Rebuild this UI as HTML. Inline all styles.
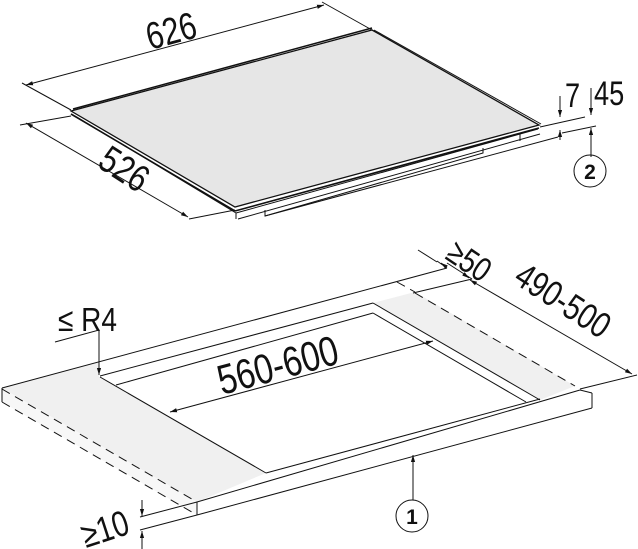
<!DOCTYPE html>
<html><head><meta charset="utf-8"><style>
html,body{margin:0;padding:0;background:#fff;width:638px;height:549px;overflow:hidden}
svg text{font-family:"Liberation Sans",sans-serif;fill:#111}
</style></head><body>
<svg width="638" height="549" viewBox="0 0 638 549" xmlns="http://www.w3.org/2000/svg">
<defs>
<marker id="a" viewBox="0 0 10 10" refX="10" refY="5" markerWidth="7" markerHeight="7" orient="auto-start-reverse"><path d="M0,2 L10,5 L0,8 z" fill="#111"/></marker>
</defs>
<g stroke="#111" stroke-width="1" fill="none">
<line x1="236" y1="213" x2="538" y2="129"/>
<line x1="238" y1="219" x2="540" y2="134"/>
<line x1="75" y1="116" x2="236" y2="213"/>
<line x1="236" y1="213" x2="236" y2="219"/>
<polyline points="265,210 265,216 483,153 483,148"/>
<line x1="265" y1="216" x2="558" y2="137"/>
<polyline points="520,134 520,141"/>
<polygon points="71,111 372,30 539,125 235,207" fill="#e6e6e6" stroke="#111" stroke-width="1.3"/>
<line x1="71" y1="114" x2="235" y2="211" stroke-width="1.6"/>
<line x1="235" y1="211" x2="539" y2="128" stroke-width="1.6"/>
<line x1="73" y1="109" x2="372" y2="28" stroke-width="1.5"/>
<line x1="374" y1="30" x2="541" y2="124"/>
<line x1="71" y1="110" x2="22" y2="83"/>
<line x1="372" y1="30" x2="322" y2="2"/>
<line x1="26" y1="85" x2="324" y2="5" marker-start="url(#a)" marker-end="url(#a)"/>
<line x1="71" y1="116" x2="20" y2="125"/>
<line x1="235" y1="210" x2="189" y2="219"/>
<line x1="26" y1="123" x2="188" y2="217" marker-start="url(#a)" marker-end="url(#a)"/>
<line x1="540" y1="127" x2="585" y2="117"/>
<line x1="562" y1="133" x2="596" y2="126"/>
<line x1="560" y1="96" x2="560" y2="117" marker-end="url(#a)"/>
<line x1="560" y1="140" x2="560" y2="130" marker-end="url(#a)"/>
<line x1="591" y1="88" x2="591" y2="115" marker-end="url(#a)"/>
<line x1="591" y1="157" x2="591" y2="128" marker-end="url(#a)"/>
<circle cx="590" cy="171" r="16"/>

<polygon points="2,388 99,362 99,377 266,473 197,502" fill="#f0f0f0" stroke="none"/>
<polygon points="373,303 415,292 575,386 540,400" fill="#f0f0f0" stroke="none"/>
<polygon points="2,388 2,402 197,515 197,502" fill="#f7f7f7" stroke="none"/>
<line x1="2" y1="388" x2="447" y2="268"/>
<line x1="413" y1="293" x2="472" y2="279"/>
<line x1="100" y1="376" x2="373" y2="303"/>
<line x1="116" y1="385" x2="373" y2="313"/>
<line x1="100" y1="377" x2="266" y2="473"/>
<line x1="373" y1="303" x2="540" y2="400"/>
<line x1="373" y1="313" x2="526" y2="402"/>
<line x1="266" y1="473" x2="540" y2="399"/>
<line x1="197" y1="502" x2="580" y2="390"/>
<line x1="580" y1="390" x2="592" y2="393"/>
<line x1="197" y1="515" x2="592" y2="408"/>
<line x1="592" y1="393" x2="592" y2="408"/>
<line x1="197" y1="502" x2="197" y2="515"/>
<line x1="2" y1="388" x2="2" y2="402"/>
<line x1="2" y1="389" x2="197" y2="502" stroke-dasharray="9,6"/>
<line x1="2" y1="402" x2="197" y2="515" stroke-dasharray="9,6"/>
<line x1="397" y1="282" x2="415" y2="292" stroke-dasharray="9,6"/>
<line x1="415" y1="293" x2="575" y2="386" stroke-dasharray="9,6"/>
<polyline points="55,342 99,330 99,375" marker-end="url(#a)"/>
<line x1="170" y1="412" x2="433" y2="341" marker-start="url(#a)" marker-end="url(#a)"/>
<line x1="447" y1="268" x2="437" y2="261"/>
<line x1="472" y1="279" x2="447" y2="263"/>
<line x1="465" y1="275" x2="469" y2="278" marker-end="url(#a)"/>
<line x1="445" y1="266" x2="441" y2="263" marker-end="url(#a)"/>
<line x1="437" y1="262" x2="418" y2="250"/>
<line x1="580" y1="389" x2="637" y2="375"/>
<line x1="470" y1="280" x2="632" y2="374" marker-start="url(#a)" marker-end="url(#a)"/>
<line x1="197" y1="502" x2="140" y2="517"/>
<line x1="197" y1="515" x2="140" y2="530"/>
<line x1="142" y1="500" x2="142" y2="516" marker-end="url(#a)"/>
<line x1="142" y1="549" x2="142" y2="531" marker-end="url(#a)"/>
<line x1="413" y1="500" x2="413" y2="455" marker-end="url(#a)"/>
<circle cx="412" cy="516" r="16"/>
</g>
<g font-size="38">
<text transform="translate(150,50) rotate(-15) scale(0.8,1)">626</text>
<text transform="translate(96,166) rotate(33) scale(0.8,1)">526</text>
<text transform="translate(565,107) scale(0.8,1)" font-size="34">7</text>
<text transform="translate(594,105) scale(0.8,1)" font-size="34">45</text>
<text transform="translate(58,331) scale(0.85,1)" font-size="33">≤ R4</text>
<text transform="translate(222,395) rotate(-15) scale(0.8,1)" font-size="42">560-600</text>
<text transform="translate(444,258) rotate(34) scale(0.8,1)" font-size="34">≥50</text>
<text transform="translate(512,282) rotate(33) scale(0.8,1)" font-size="36">490-500</text>
<text transform="translate(86,548) rotate(-18) scale(0.8,1)" font-size="36">≥10</text>
</g>
<g font-size="21" font-weight="bold" text-anchor="middle">
<text x="590" y="179">2</text>
<text x="412" y="524">1</text>
</g>
</svg>
</body></html>
